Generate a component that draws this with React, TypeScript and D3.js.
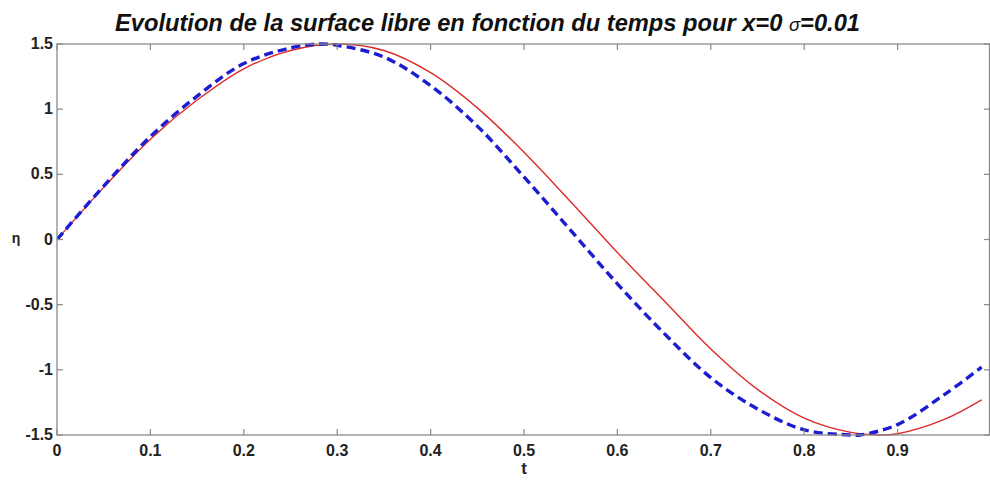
import React from "react";
import * as d3 from "d3";

const tValues = [0, 0.05, 0.1, 0.15, 0.2, 0.25, 0.28, 0.3, 0.35, 0.4, 0.45, 0.5, 0.55, 0.6, 0.65, 0.7, 0.75, 0.8, 0.85, 0.86, 0.9, 0.95, 0.99];
const blueValues = [0, 0.41, 0.79, 1.1, 1.35, 1.47, 1.5, 1.49, 1.4, 1.18, 0.87, 0.48, 0.07, -0.34, -0.72, -1.06, -1.3, -1.46, -1.5, -1.5, -1.42, -1.19, -0.98];
const redT = [0, 0.05, 0.1, 0.15, 0.2, 0.25, 0.3, 0.35, 0.4, 0.45, 0.5, 0.55, 0.6, 0.65, 0.7, 0.75, 0.8, 0.85, 0.88, 0.9, 0.95, 0.99];
const redValues = [0, 0.4, 0.77, 1.07, 1.31, 1.45, 1.5, 1.45, 1.28, 1.01, 0.67, 0.29, -0.1, -0.47, -0.84, -1.15, -1.37, -1.48, -1.5, -1.49, -1.38, -1.23];
const xTicks = [0, 0.1, 0.2, 0.3, 0.4, 0.5, 0.6, 0.7, 0.8, 0.9];
const yTicks = [-1.5, -1, -0.5, 0, 0.5, 1, 1.5];
const titleText = "Evolution de la surface libre en fonction du temps pour x=0 ";
const sigmaText = "σ";
const sigmaValue = "=0.01";

const W = 990, H = 481;
const L = 57, R = 991, T = 44, B = 435;

export default function App() {
  const x = d3.scaleLinear().domain([0, 1]).range([L, R]);
  const y = d3.scaleLinear().domain([-1.5, 1.5]).range([B, T]);
  const line = d3.line<[number, number]>().x(d => x(d[0])).y(d => y(d[1])).curve(d3.curveCatmullRom.alpha(0.5));
  const blue = line(tValues.map((t, i) => [t, blueValues[i]]) as [number, number][]) || "";
  const red = line(redT.map((t, i) => [t, redValues[i]]) as [number, number][]) || "";
  const axisColor = "#8a8a8a";
  const font = "'Liberation Sans', Arial, sans-serif";
  return (
    <svg width={W} height={H} style={{ position: "absolute", left: 0, top: 0, background: "#fff" }} fontFamily={font}>
      <rect x={0} y={0} width={W} height={H} fill="#fff" />
      <defs>
        <clipPath id="plot">
          <rect x={L} y={T - 3} width={R - L} height={B - T + 6} />
        </clipPath>
      </defs>
      <text x={115} y={31} fontSize={23} fontWeight="bold" fontStyle="italic" fill="#111" textLength={745} lengthAdjust="spacingAndGlyphs">
        {titleText}
        <tspan fontSize={18} fontWeight="normal">{sigmaText}</tspan>
        <tspan>{sigmaValue}</tspan>
      </text>
      <g clipPath="url(#plot)">
        <path d={red} fill="none" stroke="#dd2a2a" strokeWidth={1.4} />
        <path d={blue} fill="none" stroke="#1c1cd0" strokeWidth={3.4} strokeDasharray="9,5" />
      </g>
      <rect x={L} y={T} width={R - L - 1.5} height={B - T} fill="none" stroke={axisColor} strokeWidth={1.3} />
      {xTicks.map(t => (
        <g key={"x" + t}>
          <line x1={x(t)} x2={x(t)} y1={B} y2={B - 6} stroke={axisColor} strokeWidth={1.2} />
          <line x1={x(t)} x2={x(t)} y1={T} y2={T + 6} stroke={axisColor} strokeWidth={1.2} />
          <text x={x(t)} y={456} fontSize={16} fontWeight="bold" fill="#222" textAnchor="middle">{String(t)}</text>
        </g>
      ))}
      {yTicks.map(v => (
        <g key={"y" + v}>
          <line x1={L} x2={L + 6} y1={y(v)} y2={y(v)} stroke={axisColor} strokeWidth={1.2} />
          <line x1={R - 7} x2={R - 1} y1={y(v)} y2={y(v)} stroke={axisColor} strokeWidth={1.2} />
          <text x={53} y={y(v) + 5} fontSize={16} fontWeight="bold" fill="#222" textAnchor="end">{String(v)}</text>
        </g>
      ))}
      <text x={524} y={474} fontSize={17} fontWeight="bold" fill="#222" textAnchor="middle">t</text>
      <text x={16} y={243} fontSize={14} fontWeight="bold" fill="#222" textAnchor="middle">η</text>
    </svg>
  );
}
